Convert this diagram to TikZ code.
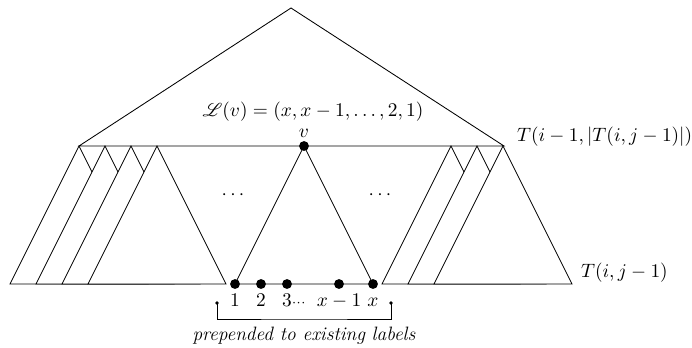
\RequirePackage{fix-cm}
\documentclass[tikz,border=0pt]{standalone}
\usepackage{mathrsfs}
\usetikzlibrary{positioning}

\begin{document}
\begin{tikzpicture}[
  x=0.0207cm, y=-0.0207cm,
  font=\fontsize{11.4pt}{13.7pt}\selectfont,
  arvore/.style={draw, fill=white, line width=0.5pt},
  ponto/.style={circle, fill, inner sep=0pt, minimum size=5.8pt},
  pontinho/.style={circle, fill, inner sep=0pt, minimum size=2.2pt},
  rotulo/.style={inner sep=1pt, text height=1.5ex, text depth=.25ex},
  node distance=2.5pt]
\useasboundingbox (0,0) rectangle (692,347);
% ---- arvore de cima
\draw[arvore] (79,146) -- (291,8) -- (504,146) -- cycle;
% ---- subarvores dos lados
\foreach \a in {79,105,131,157,451,477,503}
  \draw[arvore] (\a,146) -- ++(-69,138) -- ++(138,0) -- cycle;
% ---- subarvore de v
\node[ponto] (v) at (304,146) {};
\node[ponto] (d1) at (235,284) {};
\node[ponto] (d2) at (261,284) {};
\node[ponto] (d3) at (287,284) {};
\node[ponto] (d4) at (339,284) {};
\node[ponto] (d5) at (373,284) {};
\draw[line width=0.5pt] (v.center) -- (d1.center) -- (d5.center) -- cycle;
\node[inner sep=1pt, above=1pt of v] (lv) {$v$};
\node (L) at (313,112) {$\mathscr{L}(v) = (x, x-1, \ldots, 2, 1)$};
% ---- rotulos das folhas
\node[rotulo, below=of d1] (t1) {$1$};
\node[rotulo, below=of d2] (t2) {$2$};
\node[rotulo, below=of d3] (t3) {$3\rlap{$\scriptstyle\cdots$}$};
\node[rotulo, below=of d4] (t4) {$x-1$};
\node[rotulo, below=of d5] (t5) {$x$};
% ---- chave
\node[pontinho] (b1) at (217,303) {};
\node[pontinho] (b2) at (391,303) {};
\coordinate (bm) at (304,319);
\draw[line width=0.5pt] (b1.center) |- (bm) -| (b2.center);
\node[below=1pt of bm] (pre) {\textit{prepended to existing labels}};
% ---- reticencias e nomes
\node (r1) at (233,195) {$\cdots$};
\node (r2) at (380,195) {$\cdots$};
\node[anchor=west] (n1) at (511,137) {$T(i-1, |T(i,j-1)|)$};
\node[anchor=west] (n2) at (575,273) {$T(i, j-1)$};
\end{tikzpicture}
\end{document}
